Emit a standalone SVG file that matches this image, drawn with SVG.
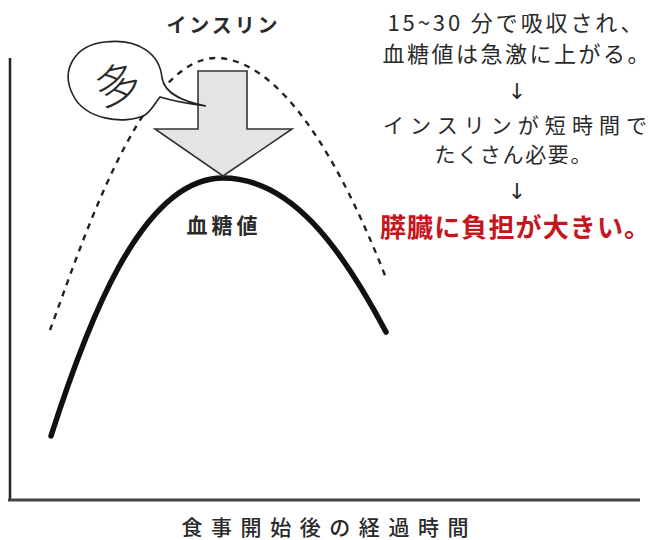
<svg xmlns="http://www.w3.org/2000/svg" width="653" height="540" viewBox="0 0 653 540">
  <style>
    .t { font-family: "Noto Sans CJK JP", "Noto Sans", sans-serif; fill: #2a2a2a; text-anchor: middle; }
    .b { font-weight: bold; }
    .red { fill: #c4161c; font-weight: bold; }
    .arr { font-family: "DejaVu Sans", sans-serif; fill: #2a2a2a; text-anchor: middle; }
    .solid { fill: none; stroke: #111; stroke-width: 5.5; stroke-linecap: round; }
    .dash { fill: none; stroke: #222; stroke-width: 2.4; stroke-dasharray: 6 6; }
  </style>
  <rect width="653" height="540" fill="#ffffff"/>
  <g id="axes">
    <line x1="10" y1="58" x2="10" y2="501" stroke="#222" stroke-width="2.5"/>
    <line x1="8" y1="500" x2="640" y2="500" stroke="#444" stroke-width="3"/>
    <text class="t" x="325" y="535" font-size="21" font-weight="500" textLength="287" lengthAdjust="spacing">食事開始後の経過時間</text>
  </g>
  <g id="connectors">
    <path class="dash" d="M50,330 C80,250 140,60 215,58 C280,58 340,160 386,278"/>
    <path class="solid" d="M51,436 C85,330 140,178 223,178 C290,178 340,245 386,332"/>
  </g>
  <g id="insulin-arrow">
    <path d="M198,71 H247 V129 H292 L223,176 L155,129 H198 Z" fill="#e4e4e4" stroke="#333" stroke-width="1.6" stroke-linejoin="miter"/>
    <text class="t b" x="222" y="33" font-size="20" textLength="111" lengthAdjust="spacing">インスリン</text>
  </g>
  <g id="bubble">
    <path d="M145,115 C125,125 85,120 73,95 C60,70 75,45 105,42 C140,38 160,55 162,78 C165,95 185,102 206,106 C190,104 170,100 160,97 C155,103 152,110 145,115 Z" fill="#fff" stroke="#222" stroke-width="1.6"/>
    <text class="t" x="118" y="102" font-size="46" font-weight="300" transform="rotate(-12 118 86)">多</text>
  </g>
  <g id="blood-sugar-label">
    <text class="t b" x="222" y="233" font-size="21" textLength="71" lengthAdjust="spacing">血糖値</text>
  </g>
  <g id="explanation">
    <text class="t" x="515" y="31" font-size="22" textLength="255" lengthAdjust="spacing">15~30 分で吸収され、</text>
    <text class="t" x="516" y="62" font-size="22" textLength="267" lengthAdjust="spacing">血糖値は急激に上がる。</text>
    <text class="arr" x="517" y="99" font-size="22">↓</text>
    <text class="t" x="515" y="133" font-size="21" textLength="264" lengthAdjust="spacing">インスリンが短時間で</text>
    <text class="t" x="513" y="162" font-size="21" textLength="157" lengthAdjust="spacing">たくさん必要。</text>
    <text class="arr" x="517" y="199" font-size="22">↓</text>
    <text class="t red" x="515" y="237" font-size="26" textLength="270" lengthAdjust="spacing">膵臓に負担が大きい。</text>
  </g>
</svg>
